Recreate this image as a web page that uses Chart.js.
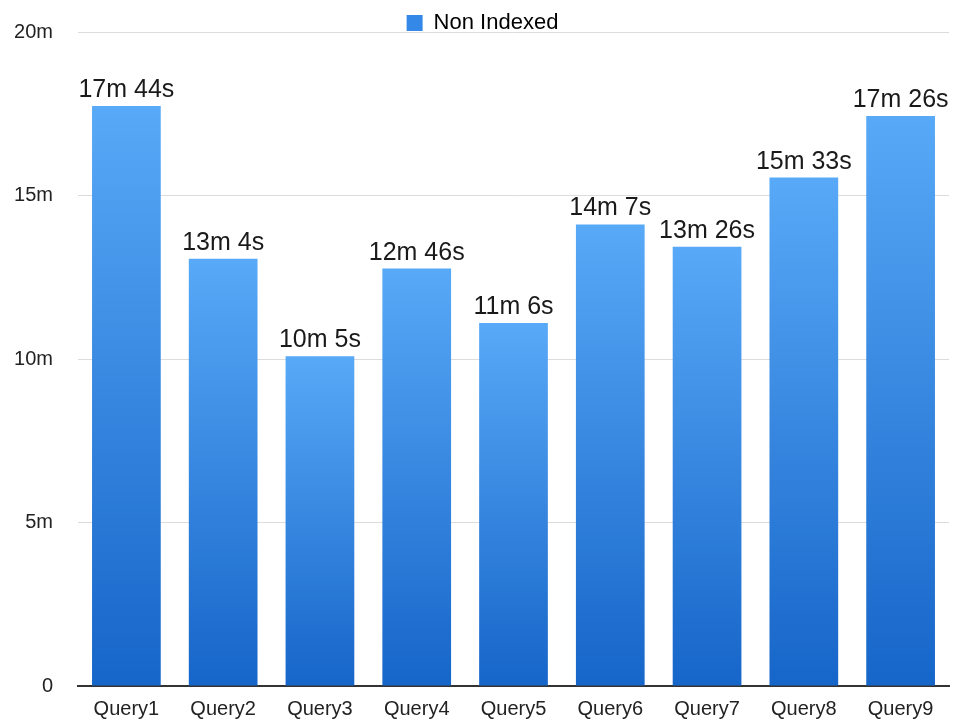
<!DOCTYPE html>
<html>
<head>
<meta charset="utf-8">
<title>Query timings</title>
<script src="https://cdn.jsdelivr.net/npm/chart.js@4/dist/chart.umd.min.js"></script>
<style>
  html, body { margin: 0; padding: 0; background: #ffffff; }
  #wrap { width: 953px; height: 722px; position: relative; }
</style>
</head>
<body>
<div id="wrap"><canvas id="chart"></canvas></div>
<script>
// Query names along the x axis
const queries = ['Query1', 'Query2', 'Query3', 'Query4', 'Query5', 'Query6', 'Query7', 'Query8', 'Query9'];
// Run time of each query without indexes, in seconds
const nonIndexedSeconds = [1064, 784, 605, 766, 666, 847, 806, 933, 1046];
// Y axis ticks, in seconds, and the labels shown for them
const tickSeconds = [0, 300, 600, 900, 1200];
const tickLabels = ['0', '5m', '10m', '15m', '20m'];

const seriesName = 'Non Indexed';
const topBlue = '#58a9f7';
const bottomBlue = '#1665c9';
const fontFamily = '"Liberation Sans", Arial, sans-serif';

function formatDuration(s) {
  return Math.floor(s / 60) + 'm ' + (s % 60) + 's';
}

// Vertical gradient for each bar, running from its own top to the baseline
function barGradient(ctx) {
  const chart = ctx.chart;
  if (!chart.chartArea || ctx.type !== 'data') return topBlue;
  const yScale = chart.scales.y;
  const top = yScale.getPixelForValue(ctx.raw);
  const bottom = yScale.getPixelForValue(0);
  const g = chart.ctx.createLinearGradient(0, top, 0, bottom);
  g.addColorStop(0, topBlue);
  g.addColorStop(1, bottomBlue);
  return g;
}

// Keeps the legend band a fixed height above the plot and nudges it right
const legendBand = {
  id: 'legendBand',
  afterInit(chart) {
    const legend = chart.legend;
    if (!legend || legend._bandPatched) return;
    const fit = legend.fit.bind(legend);
    legend.fit = function () {
      fit();
      this.height = 32;
    };
    legend._bandPatched = true;
  },
  afterLayout(chart) {
    if (chart.legend) chart.legend.left += 16;
  }
};

// Writes the duration above each bar
const valueLabels = {
  id: 'valueLabels',
  afterDatasetsDraw(chart) {
    const c = chart.ctx;
    const meta = chart.getDatasetMeta(0);
    c.save();
    c.font = '25px ' + fontFamily;
    c.fillStyle = '#1a1a1a';
    c.textAlign = 'center';
    c.textBaseline = 'alphabetic';
    meta.data.forEach((bar, i) => {
      c.fillText(formatDuration(nonIndexedSeconds[i]), bar.x, bar.y - 9);
    });
    c.restore();
  }
};

new Chart(document.getElementById('chart'), {
  type: 'bar',
  data: {
    labels: queries,
    datasets: [{
      label: seriesName,
      data: nonIndexedSeconds,
      backgroundColor: barGradient,
      borderWidth: 0,
      categoryPercentage: 1.0,
      barPercentage: 0.71
    }]
  },
  options: {
    responsive: true,
    maintainAspectRatio: false,
    animation: false,
    layout: { padding: { top: 0, right: 4, left: 0, bottom: 0 } },
    plugins: {
      legend: {
        display: true,
        position: 'top',
        align: 'center',
        labels: {
          boxWidth: 16,
          boxHeight: 16,
          padding: 12,
          color: '#222',
          font: { family: fontFamily, size: 22 },
          generateLabels() {
            return [{
              text: seriesName,
              fillStyle: '#3489e8',
              strokeStyle: '#3489e8',
              lineWidth: 0,
              datasetIndex: 0
            }];
          }
        }
      },
      tooltip: { enabled: false }
    },
    scales: {
      x: {
        afterFit(scale) { scale.height = 36; },
        grid: { display: false, drawTicks: false },
        border: { display: true, color: '#333', width: 2 },
        ticks: {
          color: '#222',
          padding: 11,
          font: { family: fontFamily, size: 20 }
        }
      },
      y: {
        min: 0,
        max: 1200,
        afterFit(scale) { scale.width = 78; },
        afterBuildTicks(scale) {
          scale.ticks = tickSeconds.map(v => ({ value: v }));
        },
        grid: {
          color: '#dcdcdc',
          lineWidth: 1,
          drawTicks: true,
          tickLength: 25,
          tickColor: 'rgba(0,0,0,0)'
        },
        border: { display: false },
        ticks: {
          color: '#222',
          padding: 0,
          font: { family: fontFamily, size: 20 },
          callback(value) {
            const i = tickSeconds.indexOf(value);
            return i >= 0 ? tickLabels[i] : '';
          }
        }
      }
    }
  },
  plugins: [legendBand, valueLabels]
});
</script>
</body>
</html>
